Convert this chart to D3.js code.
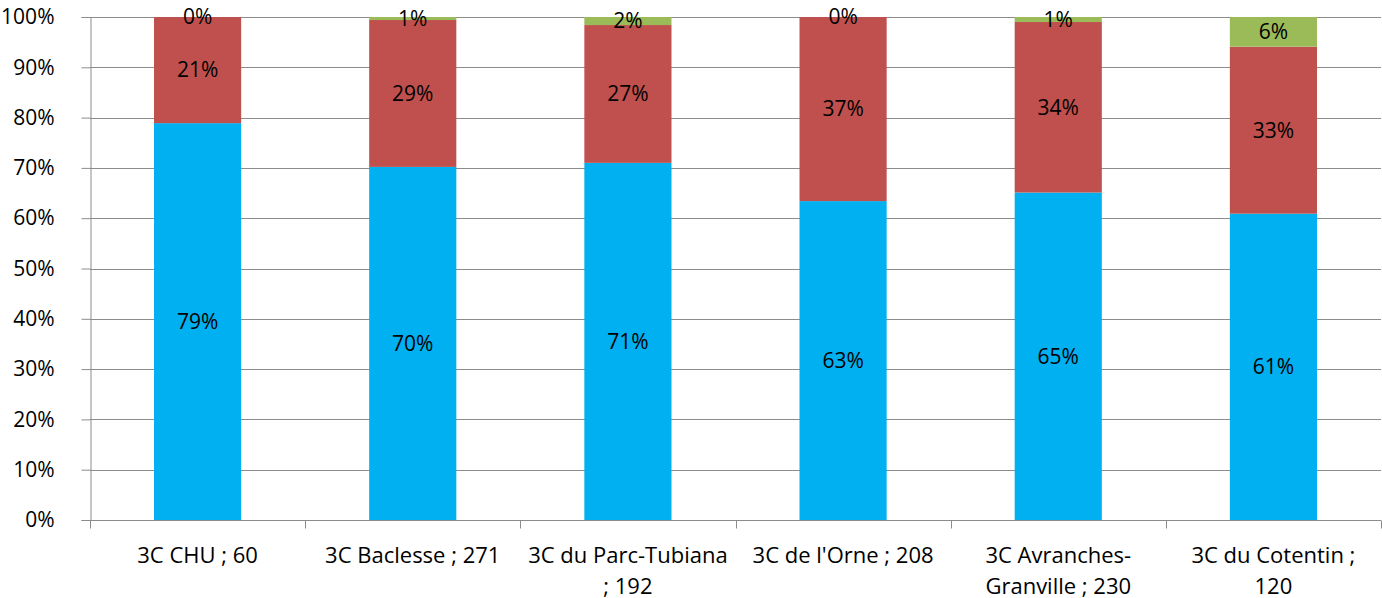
<!DOCTYPE html>
<html>
<head>
<meta charset="utf-8">
<script src="https://cdn.jsdelivr.net/npm/d3@7"></script>
<style>
  body { margin: 0; background: #fff; }
  text { font-family: "Open Sans", "Noto Sans", sans-serif; fill: #000; }
</style>
</head>
<body>
<div class="chart"></div>
<script>
// stacked 100% columns

var categories = ["3C CHU ; 60", "3C Baclesse ; 271", "3C du Parc-Tubiana ; 192",
                  "3C de l'Orne ; 208", "3C Avranches-Granville ; 230", "3C du Cotentin ; 120"];
var categoryLines = [["3C CHU ; 60"], ["3C Baclesse ; 271"], ["3C du Parc-Tubiana", "; 192"],
                     ["3C de l'Orne ; 208"], ["3C Avranches-", "Granville ; 230"], ["3C du Cotentin ;", "120"]];
var blueValues = [78.9, 70.2, 71.0, 63.4, 65.1, 60.9];
var redValues = [21.1, 29.2, 27.4, 36.6, 33.9, 33.2];
var greenValues = [0, 0.6, 1.6, 0, 1.0, 5.9];
var blueLabels = ["79%", "70%", "71%", "63%", "65%", "61%"];
var redLabels = ["21%", "29%", "27%", "37%", "34%", "33%"];
var greenLabels = ["0%", "1%", "2%", "0%", "1%", "6%"];
var yTicks = [0, 10, 20, 30, 40, 50, 60, 70, 80, 90, 100];

var width = 1382,
    height = 598,
    plotLeft = 90,
    plotRight = 1381,
    plotTop = 17,
    plotBottom = 520,
    fontSize = "21px";

var series = [
  {values: blueValues, labels: blueLabels, color: "#00B0F0"},
  {values: redValues, labels: redLabels, color: "#C0504D"},
  {values: greenValues, labels: greenLabels, color: "#9BBB59"}
];

var svg = d3.select(".chart").append("svg")
    .attr("width", width)
    .attr("height", height);

var x = d3.scaleBand()
    .domain(categories)
    .range([plotLeft, plotRight])
    .paddingInner(0)
    .paddingOuter(0);

var y = d3.scaleLinear()
    .domain([0, 100])
    .range([plotBottom, plotTop]);

// gridlines
svg.append("g")
  .selectAll("line")
  .data(yTicks)
  .enter().append("line")
    .attr("x1", plotLeft)
    .attr("x2", plotRight)
    .attr("y1", function(d) { return Math.round(y(d)) + 0.5; })
    .attr("y2", function(d) { return Math.round(y(d)) + 0.5; })
    .attr("stroke", "#8c8c8c")
    .attr("stroke-width", 1);

// y axis
var yAxis = svg.append("g")
    .attr("transform", "translate(" + (plotLeft + 0.5) + ",0)")
    .call(d3.axisLeft(y).tickValues(yTicks).tickSize(9).tickPadding(27)
      .tickFormat(function(d) { return d + "%"; }));
yAxis.select(".domain").attr("stroke", "#8c8c8c");
yAxis.selectAll(".tick line").attr("stroke", "#8c8c8c");
yAxis.selectAll("text")
    .attr("font-size", fontSize)
    .style("font-family", "'Open Sans', sans-serif");

// bars
var barWidth = x.bandwidth() * 0.405;
series.forEach(function(s, si) {
  var g = svg.append("g");
  var data = categories.map(function(c, i) {
    var base = 0;
    for (var k = 0; k < si; k++) base += series[k].values[i];
    return {cat: c, y0: base, y1: Math.min(base + s.values[i], 100), label: s.labels[i]};
  });

  g.selectAll("rect")
    .data(data)
    .enter().append("rect")
      .attr("x", function(d) { return x(d.cat) + (x.bandwidth() - barWidth) / 2; })
      .attr("width", barWidth)
      .attr("y", function(d) { return y(d.y1); })
      .attr("height", function(d) { return y(d.y0) - y(d.y1); })
      .attr("fill", s.color);

  g.selectAll("text")
    .data(data)
    .enter().append("text")
      .attr("x", function(d) { return x(d.cat) + x.bandwidth() / 2; })
      .attr("y", function(d) { return y((d.y0 + d.y1) / 2); })
      .attr("dy", "0.35em")
      .attr("text-anchor", "middle")
      .attr("font-size", fontSize)
      .text(function(d) { return d.label; });
});

// x axis
var xAxis = svg.append("g")
    .attr("transform", "translate(0," + (plotBottom + 0.5) + ")");
xAxis.append("line")
    .attr("x1", plotLeft)
    .attr("x2", plotRight)
    .attr("stroke", "#8c8c8c");
xAxis.selectAll(".sep")
  .data(d3.range(categories.length + 1))
  .enter().append("line")
    .attr("class", "sep")
    .attr("x1", function(i) { return Math.round(plotLeft + i * x.step()) + 0.5; })
    .attr("x2", function(i) { return Math.round(plotLeft + i * x.step()) + 0.5; })
    .attr("y1", 0)
    .attr("y2", 8)
    .attr("stroke", "#8c8c8c");

var labels = xAxis.selectAll(".cat")
  .data(categories)
  .enter().append("text")
    .attr("class", "cat")
    .attr("text-anchor", "middle")
    .attr("font-size", "22px")
    .attr("x", function(d) { return x(d) + x.bandwidth() / 2; })
    .attr("y", 42);

labels.each(function(d, i) {
  var t = d3.select(this);
  categoryLines[i].forEach(function(line, j) {
    t.append("tspan")
      .attr("x", x(d) + x.bandwidth() / 2)
      .attr("dy", j === 0 ? 0 : 31)
      .text(line);
  });
});
</script>
</body>
</html>
